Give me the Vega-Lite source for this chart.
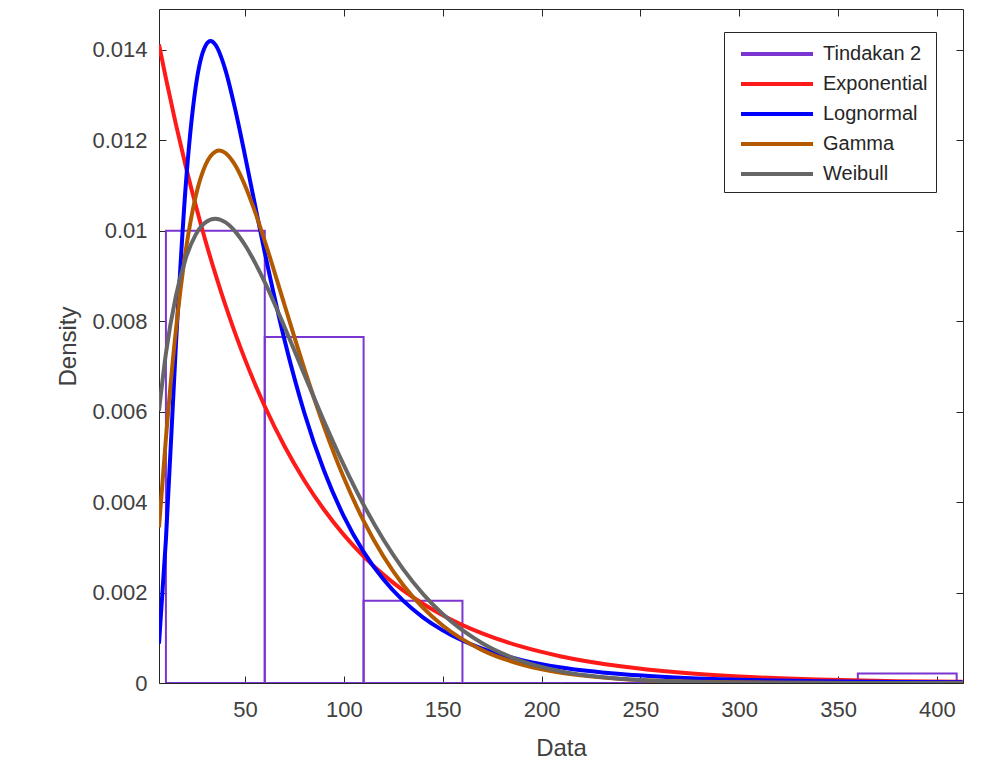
{
  "$schema": "https://vega.github.io/schema/vega-lite/v6.json",
  "width": 804,
  "height": 674,
  "autosize": {"type": "none"},
  "padding": {"left": 159, "top": 9, "right": 44, "bottom": 79},
  "background": "white",
  "config": {
    "view": {"stroke": "#262626", "strokeWidth": 1},
    "font": "Liberation Sans",
    "axis": {
      "grid": false,
      "domain": false,
      "tickColor": "#262626",
      "tickSize": -7,
      "labelColor": "#404040",
      "labelFontSize": 22,
      "labelFont": "Liberation Sans",
      "titleFontSize": 24,
      "titleFont": "Liberation Sans",
      "titleColor": "#404040",
      "titleFontWeight": "normal"
    }
  },
  "datasets": {
    "hist": [
      {"series": "Tindakan 2", "x0": 10, "x1": 60, "d": 0.0100},
      {"series": "Tindakan 2", "x0": 60, "x1": 110, "d": 0.00765},
      {"series": "Tindakan 2", "x0": 110, "x1": 160, "d": 0.00182},
      {"series": "Tindakan 2", "x0": 160, "x1": 210, "d": 0},
      {"series": "Tindakan 2", "x0": 210, "x1": 260, "d": 0},
      {"series": "Tindakan 2", "x0": 260, "x1": 310, "d": 0},
      {"series": "Tindakan 2", "x0": 310, "x1": 360, "d": 0},
      {"series": "Tindakan 2", "x0": 360, "x1": 410, "d": 0.00021}
    ],
    "curves": [
      {"series": "Exponential", "x": 6.5, "y": 0.014116},
      {"series": "Exponential", "x": 10, "y": 0.013365},
      {"series": "Exponential", "x": 15, "y": 0.012360},
      {"series": "Exponential", "x": 20, "y": 0.011431},
      {"series": "Exponential", "x": 25, "y": 0.010572},
      {"series": "Exponential", "x": 30, "y": 0.009778},
      {"series": "Exponential", "x": 35, "y": 0.009043},
      {"series": "Exponential", "x": 40, "y": 0.008363},
      {"series": "Exponential", "x": 45, "y": 0.007735},
      {"series": "Exponential", "x": 50, "y": 0.007154},
      {"series": "Exponential", "x": 55, "y": 0.006616},
      {"series": "Exponential", "x": 60, "y": 0.006119},
      {"series": "Exponential", "x": 70, "y": 0.005233},
      {"series": "Exponential", "x": 80, "y": 0.004477},
      {"series": "Exponential", "x": 90, "y": 0.003829},
      {"series": "Exponential", "x": 100, "y": 0.003275},
      {"series": "Exponential", "x": 110, "y": 0.002801},
      {"series": "Exponential", "x": 120, "y": 0.002396},
      {"series": "Exponential", "x": 130, "y": 0.002050},
      {"series": "Exponential", "x": 140, "y": 0.001753},
      {"series": "Exponential", "x": 150, "y": 0.001500},
      {"series": "Exponential", "x": 170, "y": 0.001097},
      {"series": "Exponential", "x": 190, "y": 0.000803},
      {"series": "Exponential", "x": 210, "y": 0.000587},
      {"series": "Exponential", "x": 240, "y": 0.000368},
      {"series": "Exponential", "x": 270, "y": 0.000230},
      {"series": "Exponential", "x": 300, "y": 0.000144},
      {"series": "Exponential", "x": 340, "y": 0.000077},
      {"series": "Exponential", "x": 380, "y": 0.000041},
      {"series": "Exponential", "x": 413, "y": 0.000025},
      {"series": "Lognormal", "x": 6.5, "y": 0.000870},
      {"series": "Lognormal", "x": 10, "y": 0.003170},
      {"series": "Lognormal", "x": 15, "y": 0.007432},
      {"series": "Lognormal", "x": 20, "y": 0.010982},
      {"series": "Lognormal", "x": 25, "y": 0.013157},
      {"series": "Lognormal", "x": 30, "y": 0.014085},
      {"series": "Lognormal", "x": 32.6, "y": 0.014190},
      {"series": "Lognormal", "x": 35, "y": 0.014113},
      {"series": "Lognormal", "x": 40, "y": 0.013567},
      {"series": "Lognormal", "x": 45, "y": 0.012692},
      {"series": "Lognormal", "x": 50, "y": 0.011660},
      {"series": "Lognormal", "x": 55, "y": 0.010580},
      {"series": "Lognormal", "x": 60, "y": 0.009517},
      {"series": "Lognormal", "x": 70, "y": 0.007582},
      {"series": "Lognormal", "x": 80, "y": 0.005975},
      {"series": "Lognormal", "x": 90, "y": 0.004691},
      {"series": "Lognormal", "x": 100, "y": 0.003684},
      {"series": "Lognormal", "x": 110, "y": 0.002900},
      {"series": "Lognormal", "x": 120, "y": 0.002292},
      {"series": "Lognormal", "x": 130, "y": 0.001820},
      {"series": "Lognormal", "x": 140, "y": 0.001452},
      {"series": "Lognormal", "x": 150, "y": 0.001164},
      {"series": "Lognormal", "x": 170, "y": 0.000759},
      {"series": "Lognormal", "x": 190, "y": 0.000505},
      {"series": "Lognormal", "x": 210, "y": 0.000342},
      {"series": "Lognormal", "x": 240, "y": 0.000197},
      {"series": "Lognormal", "x": 270, "y": 0.000117},
      {"series": "Lognormal", "x": 300, "y": 0.000072},
      {"series": "Lognormal", "x": 340, "y": 0.000039},
      {"series": "Lognormal", "x": 380, "y": 0.000022},
      {"series": "Lognormal", "x": 413, "y": 0.000014},
      {"series": "Gamma", "x": 6.5, "y": 0.003440},
      {"series": "Gamma", "x": 10, "y": 0.005407},
      {"series": "Gamma", "x": 15, "y": 0.007778},
      {"series": "Gamma", "x": 20, "y": 0.009548},
      {"series": "Gamma", "x": 25, "y": 0.010747},
      {"series": "Gamma", "x": 30, "y": 0.011451},
      {"series": "Gamma", "x": 35, "y": 0.011746},
      {"series": "Gamma", "x": 37, "y": 0.011770},
      {"series": "Gamma", "x": 40, "y": 0.011721},
      {"series": "Gamma", "x": 45, "y": 0.011450},
      {"series": "Gamma", "x": 50, "y": 0.010999},
      {"series": "Gamma", "x": 55, "y": 0.010425},
      {"series": "Gamma", "x": 60, "y": 0.009771},
      {"series": "Gamma", "x": 70, "y": 0.008357},
      {"series": "Gamma", "x": 80, "y": 0.006952},
      {"series": "Gamma", "x": 90, "y": 0.005663},
      {"series": "Gamma", "x": 100, "y": 0.004536},
      {"series": "Gamma", "x": 110, "y": 0.003584},
      {"series": "Gamma", "x": 120, "y": 0.002801},
      {"series": "Gamma", "x": 130, "y": 0.002168},
      {"series": "Gamma", "x": 140, "y": 0.001665},
      {"series": "Gamma", "x": 150, "y": 0.001270},
      {"series": "Gamma", "x": 170, "y": 0.000726},
      {"series": "Gamma", "x": 190, "y": 0.000408},
      {"series": "Gamma", "x": 210, "y": 0.000225},
      {"series": "Gamma", "x": 240, "y": 0.000091},
      {"series": "Gamma", "x": 270, "y": 0.000036},
      {"series": "Gamma", "x": 300, "y": 0.000014},
      {"series": "Gamma", "x": 340, "y": 0.000004},
      {"series": "Gamma", "x": 380, "y": 0.000001},
      {"series": "Gamma", "x": 413, "y": 0.0000003},
      {"series": "Weibull", "x": 6.5, "y": 0.006020},
      {"series": "Weibull", "x": 10, "y": 0.007286},
      {"series": "Weibull", "x": 15, "y": 0.008549},
      {"series": "Weibull", "x": 20, "y": 0.009384},
      {"series": "Weibull", "x": 25, "y": 0.009906},
      {"series": "Weibull", "x": 30, "y": 0.010183},
      {"series": "Weibull", "x": 35, "y": 0.010265},
      {"series": "Weibull", "x": 40, "y": 0.010188},
      {"series": "Weibull", "x": 45, "y": 0.009985},
      {"series": "Weibull", "x": 50, "y": 0.009682},
      {"series": "Weibull", "x": 55, "y": 0.009300},
      {"series": "Weibull", "x": 60, "y": 0.008861},
      {"series": "Weibull", "x": 70, "y": 0.007871},
      {"series": "Weibull", "x": 80, "y": 0.006822},
      {"series": "Weibull", "x": 90, "y": 0.005786},
      {"series": "Weibull", "x": 100, "y": 0.004815},
      {"series": "Weibull", "x": 110, "y": 0.003939},
      {"series": "Weibull", "x": 120, "y": 0.003171},
      {"series": "Weibull", "x": 130, "y": 0.002518},
      {"series": "Weibull", "x": 140, "y": 0.001971},
      {"series": "Weibull", "x": 150, "y": 0.001524},
      {"series": "Weibull", "x": 170, "y": 0.000879},
      {"series": "Weibull", "x": 190, "y": 0.000485},
      {"series": "Weibull", "x": 210, "y": 0.000257},
      {"series": "Weibull", "x": 240, "y": 0.000092},
      {"series": "Weibull", "x": 270, "y": 0.000031},
      {"series": "Weibull", "x": 300, "y": 0.0000095},
      {"series": "Weibull", "x": 340, "y": 0.0000018},
      {"series": "Weibull", "x": 380, "y": 0.0000003},
      {"series": "Weibull", "x": 413, "y": 0.0000001}
    ]
  },
  "layer": [
    {
      "data": {"name": "hist"},
      "mark": {"type": "rect", "fill": "transparent", "strokeWidth": 2, "clip": true},
      "encoding": {
        "x": {
          "field": "x0", "type": "quantitative",
          "scale": {"domain": [6.5, 413.2], "nice": false, "zero": false},
          "axis": {
            "orient": "bottom",
            "values": [50, 100, 150, 200, 250, 300, 350, 400],
            "title": "Data",
            "titleY": 65,
            "titleBaseline": "middle",
            "labelPadding": 23,
            "labelFlush": false
          }
        },
        "x2": {"field": "x1"},
        "y": {
          "field": "d", "type": "quantitative",
          "scale": {"domain": [0, 0.0149], "nice": false, "zero": true},
          "axis": {
            "orient": "left",
            "values": [0, 0.002, 0.004, 0.006, 0.008, 0.01, 0.012, 0.014],
            "format": ".3~f",
            "title": "Density",
            "titleX": -91,
            "titleY": 337,
            "titleBaseline": "middle",
            "titleAlign": "center",
            "labelPadding": 19
          }
        },
        "y2": {"datum": 0},
        "stroke": {
          "field": "series", "type": "nominal",
          "scale": {
            "domain": ["Tindakan 2", "Exponential", "Lognormal", "Gamma", "Weibull"],
            "range": ["#7B35D0", "#FF1A1A", "#0000FF", "#B35900", "#666666"]
          },
          "legend": {
            "title": null,
            "orient": "none",
            "legendX": 565,
            "legendY": 23,
            "symbolType": "M-3,0H3",
            "symbolSize": 576,
            "symbolStrokeWidth": 4,
            "labelFontSize": 20,
            "labelFont": "Liberation Sans",
            "labelColor": "#262626",
            "strokeColor": "#262626",
            "fillColor": "white",
            "padding": 8,
            "rowPadding": 6,
            "labelOffset": 32,
            "symbolOffset": 31,
            "labelLimit": 300
          }
        }
      }
    },
    {
      "data": {"name": "curves"},
      "mark": {"type": "line", "interpolate": "monotone", "strokeWidth": 4, "clip": true},
      "encoding": {
        "x": {
          "field": "x", "type": "quantitative",
          "axis": {
            "orient": "top",
            "values": [50, 100, 150, 200, 250, 300, 350, 400],
            "labels": false,
            "title": null
          }
        },
        "y": {
          "field": "y", "type": "quantitative",
          "axis": {
            "orient": "right",
            "values": [0, 0.002, 0.004, 0.006, 0.008, 0.01, 0.012, 0.014],
            "labels": false,
            "title": null
          }
        },
        "stroke": {"field": "series", "type": "nominal"}
      }
    }
  ],
  "resolve": {"axis": {"x": "independent", "y": "independent"}}
}
